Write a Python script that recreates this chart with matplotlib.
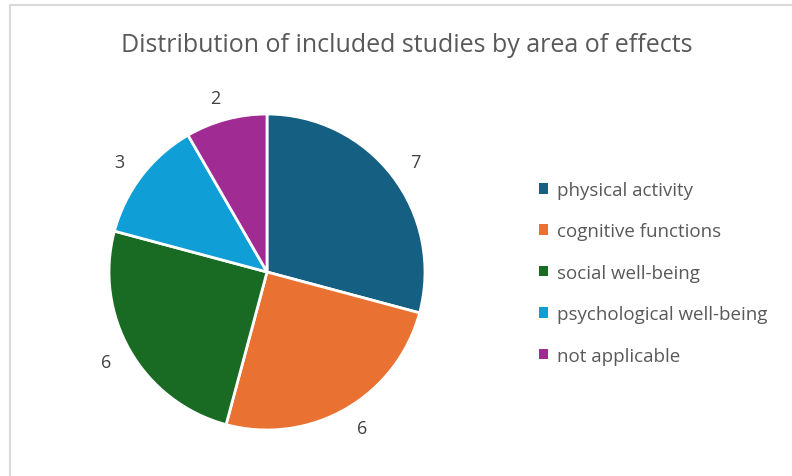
import matplotlib
matplotlib.use("Agg")
import matplotlib.pyplot as plt
from matplotlib.lines import Line2D

categories = ["physical activity", "cognitive functions", "social well-being",
              "psychological well-being", "not applicable"]
values = [7, 6, 6, 3, 2]
colors = ["#156082", "#E97132", "#196B24", "#0F9ED5", "#A02B93"]
title = "Distribution of included studies by area of effects"

plt.rcParams['font.family'] = ['Open Sans', 'DejaVu Sans']
W, H = 792, 477
fig = plt.figure(figsize=(W / 100, H / 100), dpi=100)
fig.patch.set_facecolor("white")

# chart border (top and left visible)
fig.add_artist(Line2D([10 / W, 1], [1 - 6 / H, 1 - 6 / H], color="#d9d9d9", lw=1.5))
fig.add_artist(Line2D([10 / W, 10 / W], [0, 1 - 6 / H], color="#d9d9d9", lw=1.5))

cx, cy, r = 267, 273, 158
ax = fig.add_axes([(cx - r) / W, (H - cy - r) / H, 2 * r / W, 2 * r / H])
wedges, texts = ax.pie(values, colors=colors, startangle=90, counterclock=False,
                       labels=[str(v) for v in values], labeldistance=1.14,
                       wedgeprops=dict(edgecolor="white", linewidth=2),
                       textprops=dict(fontsize=13, color="#404040"))
ax.set_xlim(-1, 1)
ax.set_ylim(-1, 1)
ax.set_aspect("equal")

fig.text(407 / W, 1 - 45 / H, title, ha="center", va="center",
         fontsize=18, color="#595959")

leg = fig.legend(wedges, categories, loc="upper left",
                 bbox_to_anchor=(522 / W, 1 - 165 / H), frameon=False,
                 fontsize=13.5, labelspacing=1.25, handlelength=0.5,
                 handleheight=0.5, handletextpad=0.45, labelcolor="#595959")
for h in leg.legend_handles:
    h.set_edgecolor("none")

fig.savefig("out.png", dpi=100)
